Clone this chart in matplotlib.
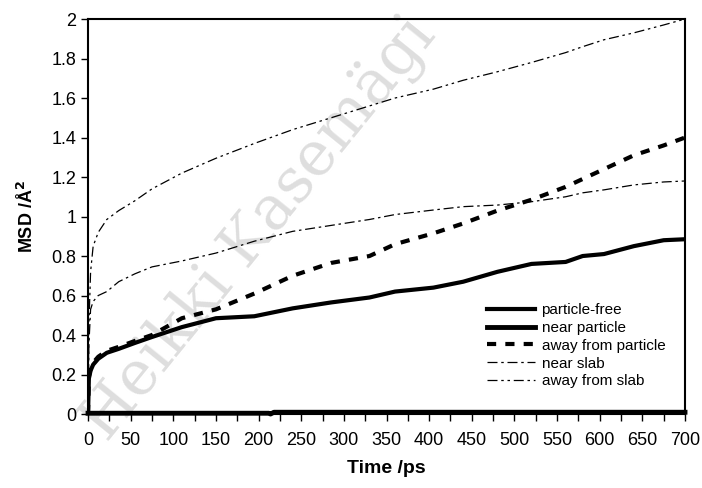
import numpy as np
import matplotlib
matplotlib.use("Agg")
import matplotlib.pyplot as plt
from matplotlib.ticker import MultipleLocator

plt.rcParams['font.family'] = ['Liberation Sans', 'DejaVu Sans']

# time axis (ps) shared by the four MSD curves
time = [0, 1, 3, 6, 12, 22, 36, 55, 75, 110, 150, 195, 240, 285, 330, 360,
        405, 440, 480, 520, 560, 580, 605, 640, 675, 700]

particle_free = [0.0, 0.18, 0.22, 0.25, 0.28, 0.31, 0.33, 0.36, 0.39, 0.44,
                 0.485, 0.495, 0.535, 0.565, 0.59, 0.62, 0.64, 0.67, 0.72,
                 0.76, 0.77, 0.80, 0.81, 0.85, 0.88, 0.885]
away_particle = [0.0, 0.19, 0.23, 0.26, 0.29, 0.32, 0.34, 0.37, 0.40, 0.485,
                 0.53, 0.61, 0.70, 0.765, 0.80, 0.86, 0.915, 0.965, 1.03,
                 1.085, 1.15, 1.19, 1.24, 1.31, 1.36, 1.40]
near_slab = [0.0, 0.35, 0.53, 0.57, 0.60, 0.62, 0.67, 0.71, 0.745, 0.775,
             0.815, 0.875, 0.925, 0.955, 0.985, 1.01, 1.033, 1.05, 1.058,
             1.075, 1.10, 1.12, 1.135, 1.16, 1.175, 1.18]
away_slab = [0.0, 0.45, 0.72, 0.85, 0.92, 0.985, 1.03, 1.08, 1.14, 1.22,
             1.295, 1.37, 1.44, 1.50, 1.56, 1.60, 1.645, 1.69, 1.733, 1.78,
             1.83, 1.86, 1.895, 1.93, 1.97, 2.0]

# near particle stays practically at zero
near_t = [0, 212, 214, 218, 700]
near_msd = [0.004, 0.004, 0.0, 0.009, 0.009]

fig = plt.figure(figsize=(7.02, 4.88), dpi=100)
ax = fig.add_axes([0.1254, 0.1516, 0.8504, 0.8094])

# watermark, drawn underneath the axes
fig.text(0.37, 0.53, 'Heikki Kasemägi', fontsize=44, family='DejaVu Serif',
         color='#dedede', rotation=51, ha='center', va='center', zorder=-1)
ax.set_facecolor('none')

ax.plot(time, particle_free, color='black', lw=3, ls='-', label='particle-free')
ax.plot(near_t, near_msd, color='black', lw=3.5, ls='-', label='near particle',
        clip_on=False)
ax.plot(time, away_particle, color='black', lw=3, ls=(0, (2.2, 2.2)),
        label='away from particle')
ax.plot(time, near_slab, color='black', lw=0.9, ls=(0, (8, 3, 2, 3)),
        label='near slab')
ax.plot(time, away_slab, color='black', lw=0.9, ls=(0, (8, 3, 2, 3, 2, 3)),
        label='away from slab')

ax.set_xlim(0, 700)
ax.set_ylim(0, 2)
ax.xaxis.set_major_locator(MultipleLocator(50))
ax.xaxis.set_minor_locator(MultipleLocator(25))
ax.yaxis.set_major_locator(MultipleLocator(0.2))
ax.yaxis.set_major_formatter(plt.FuncFormatter(lambda v, p: ('%.1f' % v).rstrip('0').rstrip('.') if v else '0'))
ax.tick_params(which='both', direction='out', length=5, width=1, labelsize=13)
ax.tick_params(axis='x', pad=8)
for s in ax.spines.values():
    s.set_linewidth(1.5)

ax.set_xlabel('Time /ps', fontsize=14, fontweight='bold', labelpad=8)
ax.set_ylabel('MSD /Å$^\\mathbf{2}$', fontsize=13, fontweight='bold', labelpad=10)

ax.legend(loc='lower right', bbox_to_anchor=(0.99, 0.03), frameon=False,
          fontsize=11, handlelength=3.2, labelspacing=0.25, handletextpad=0.4)

fig.savefig('out.png', dpi=100)
